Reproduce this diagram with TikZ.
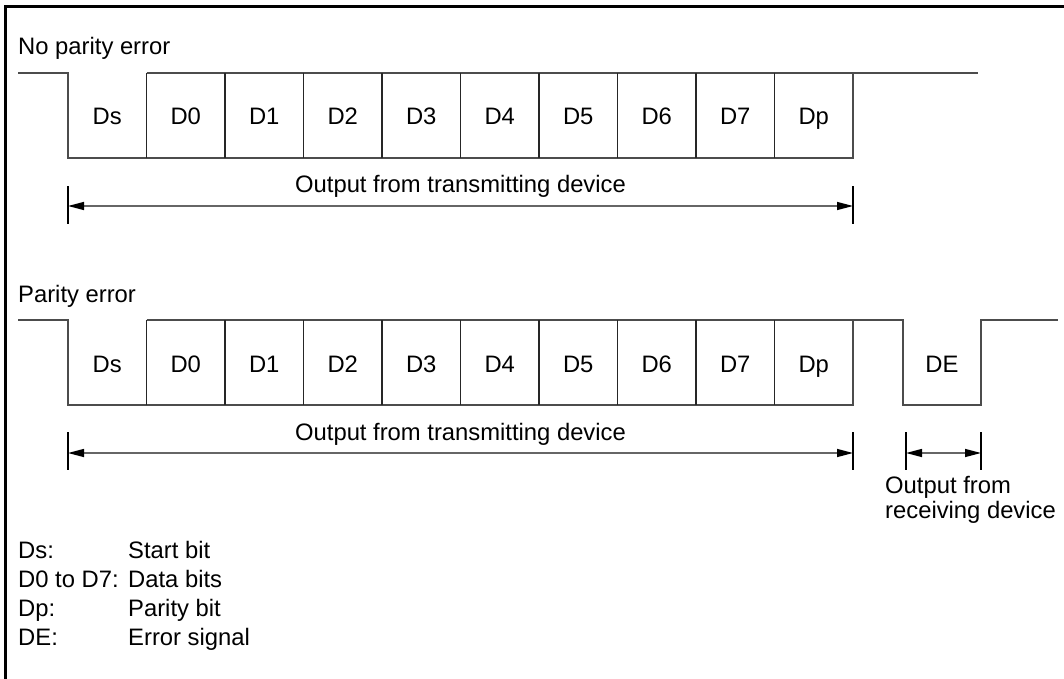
\documentclass[tikz,border=0pt]{standalone}
\usepackage{fontspec}
\setmainfont{Liberation Sans}
\usetikzlibrary{arrows.meta}
\begin{document}
\begin{tikzpicture}[x=1pt,y=-1pt,
  wave/.style={draw=black!70, line width=2pt},
  divider/.style={draw=black!85, line width=1.5pt},
  tickline/.style={draw=black, line width=1.3pt},
  dimline/.style={draw=black!60, line width=1.4pt,
    {Triangle[length=16pt,width=8pt,color=black]}-{Triangle[length=16pt,width=8pt,color=black]}},
  txt/.style={font=\fontsize{23.8}{27}\selectfont, inner sep=0pt, anchor=base},
  frameline/.style={draw=black, line width=3pt}]
\useasboundingbox (0,0) rectangle (1064,679);
% frame (top and left only)
\draw[frameline] (5,679) -- (5,7) -- (1064,7);

% ---------- No parity error ----------
\node[txt, anchor=base west] (title1) at (18,55) {No parity error};
\draw[wave] (18,73) -- (68,73) -- (68,158) -- (853,158) -- (853,73);
\draw[wave] (146.5,73) -- (978,73);
\foreach \i in {1,...,9} \draw[divider] ({68+\i*78.5},73) -- ({68+\i*78.5},158);
\foreach \lab [count=\i from 0] in {Ds,D0,D1,D2,D3,D4,D5,D6,D7,Dp}
  \node[txt] (t\i) at ({107.25+\i*78.5},125) {\lab};
\coordinate (ta) at (68,206);
\coordinate (tb) at (853,206);
\draw[tickline] (68,186) -- (68,224);
\draw[tickline] (853,186) -- (853,224);
\draw[dimline] (ta) -- (tb);
\node[txt] (tout) at (460.5,193) {Output from transmitting device};

% ---------- Parity error ----------
\node[txt, anchor=base west] (title2) at (18,302) {Parity error};
\draw[wave] (18,320) -- (68,320) -- (68,405) -- (853,405) -- (853,320);
\draw[wave] (146.5,320) -- (903,320) -- (903,405) -- (981,405) -- (981,320) -- (1058,320);
\foreach \i in {1,...,9} \draw[divider] ({68+\i*78.5},320) -- ({68+\i*78.5},405);
\foreach \lab [count=\i from 0] in {Ds,D0,D1,D2,D3,D4,D5,D6,D7,Dp}
  \node[txt] (b\i) at ({107.25+\i*78.5},372) {\lab};
\node[txt] (de) at (942,372) {DE};
\coordinate (ba) at (68,453);
\coordinate (bb) at (853,453);
\draw[tickline] (68,432) -- (68,470);
\draw[tickline] (853,432) -- (853,470);
\draw[dimline] (ba) -- (bb);
\node[txt] (bout) at (460.5,440) {Output from transmitting device};
\coordinate (ra) at (906,453);
\coordinate (rb) at (981,453);
\draw[tickline] (906,432) -- (906,470);
\draw[tickline] (981,432) -- (981,470);
\draw[dimline] (ra) -- (rb);
\node[txt, anchor=base west] (rout1) at (885,493) {Output from};
\node[txt, anchor=base west] (rout2) at (885,518) {receiving device};

% ---------- Legend ----------
\node[txt, anchor=base west] (k1) at (18,558) {Ds:};
\node[txt, anchor=base west] (k2) at (18,587) {D0 to D7:};
\node[txt, anchor=base west] (k3) at (18,616) {Dp:};
\node[txt, anchor=base west] (k4) at (18,645) {DE:};
\node[txt, anchor=base west] (v1) at (128,558) {Start bit};
\node[txt, anchor=base west] (v2) at (128,587) {Data bits};
\node[txt, anchor=base west] (v3) at (128,616) {Parity bit};
\node[txt, anchor=base west] (v4) at (128,645) {Error signal};
\end{tikzpicture}
\end{document}
